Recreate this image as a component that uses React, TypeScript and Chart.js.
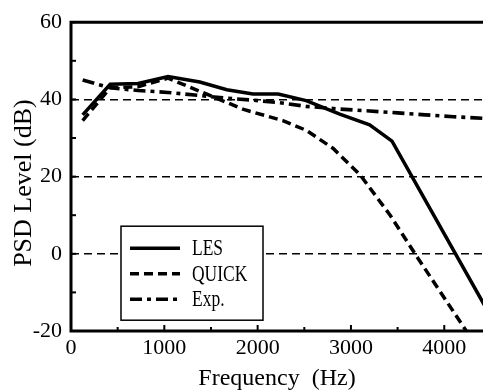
import React, { useEffect, useRef } from 'react';
import { Chart, registerables } from 'chart.js';

Chart.register(...registerables);

// ---- data ----
const seriesNames = ['LES', 'QUICK', 'Exp.'];
const lesFreq = [125, 420, 720, 1040, 1380, 1670, 1950, 2220, 2520, 2880, 3200, 3440, 4500];
const lesLevel = [36, 43.9, 44.1, 45.9, 44.5, 42.5, 41.4, 41.4, 39.7, 36.2, 33.4, 29.2, -16.3];
const quickFreq = [125, 420, 720, 1040, 1850, 2270, 2520, 2810, 3100, 3420, 3700, 4250];
const quickLevel = [34.5, 43, 43.3, 45.5, 37.4, 34.5, 32, 27.3, 20.4, 10, -0.5, -20.5];
const expFreq = [125, 420, 720, 1040, 1380, 1670, 1950, 2220, 2520, 2880, 3200, 3500, 3800, 4100, 4500];
const expLevel = [45, 43, 42.3, 41.8, 41, 40.3, 39.8, 39.2, 38.2, 37.5, 37, 36.5, 36, 35.5, 35];
const xLabelTicks = [0, 1000, 2000, 3000, 4000];
const yLabelTicks = [-20, 0, 20, 40, 60];
const yGridValues = [0, 20, 40];
const xTitle = 'Frequency  (Hz)';
const yTitle = 'PSD Level (dB)  ';

const X_MIN = 0;
const X_MAX = 4415;
const Y_MIN = -20;
const Y_MAX = 60;

const SERIF = "'Liberation Serif', 'Times New Roman', serif";

const framePlugin = {
  id: 'frameAndLegend',
  afterDatasetsDraw(chart: any) {
    const { ctx, chartArea: a, scales } = chart;
    const xs = scales.x;
    const ys = scales.y;
    ctx.save();
    ctx.strokeStyle = '#000';
    ctx.setLineDash([]);
    // inward ticks
    ctx.lineWidth = 2;
    for (let v = 0; v <= X_MAX; v += 500) {
      const px = xs.getPixelForValue(v);
      const len = v % 1000 === 0 ? 6 : 4;
      ctx.beginPath();
      ctx.moveTo(px, a.bottom);
      ctx.lineTo(px, a.bottom - len);
      ctx.stroke();
    }
    for (let v = Y_MIN; v <= Y_MAX; v += 10) {
      const py = ys.getPixelForValue(v);
      ctx.beginPath();
      ctx.moveTo(a.left, py);
      ctx.lineTo(a.left + 5, py);
      ctx.stroke();
    }
    // frame (top, left, bottom)
    ctx.lineWidth = 3;
    ctx.lineCap = 'square';
    ctx.beginPath();
    ctx.moveTo(a.right + 3, a.top);
    ctx.lineTo(a.left, a.top);
    ctx.lineTo(a.left, a.bottom);
    ctx.lineTo(a.right + 3, a.bottom);
    ctx.stroke();
    ctx.lineCap = 'butt';

    // legend box
    const bx = a.left + 50;
    const by = a.top + 204;
    const bw = 142;
    const bh = 94;
    ctx.fillStyle = '#fff';
    ctx.fillRect(bx, by, bw, bh);
    ctx.lineWidth = 1.5;
    ctx.strokeRect(bx, by, bw, bh);
    chart.data.datasets.forEach((ds: any, i: number) => {
      const ry = by + 22 + i * 25.5;
      ctx.save();
      ctx.strokeStyle = '#000';
      ctx.lineWidth = ds.borderWidth;
      ctx.setLineDash(ds.borderDash || []);
      ctx.beginPath();
      ctx.moveTo(bx + 9, ry);
      ctx.lineTo(bx + 59, ry);
      ctx.stroke();
      ctx.restore();
      ctx.save();
      ctx.fillStyle = '#000';
      ctx.font = `23px ${SERIF}`;
      ctx.textBaseline = 'middle';
      ctx.textAlign = 'left';
      ctx.translate(bx + 71, ry + 1);
      ctx.scale(0.76, 1);
      ctx.fillText(ds.label, 0, 0);
      ctx.restore();
    });
    ctx.restore();
  },
};

export default function App() {
  const canvasRef = useRef<HTMLCanvasElement | null>(null);

  useEffect(() => {
    const canvas = canvasRef.current;
    if (!canvas) return;
    const mk = (f: number[], v: number[]) => f.map((x, i) => ({ x, y: v[i] }));
    const chart = new Chart(canvas, {
      type: 'line',
      data: {
        datasets: [
          {
            label: seriesNames[0],
            data: mk(lesFreq, lesLevel),
            borderColor: '#000',
            borderWidth: 3.5,
            borderDash: [],
            pointRadius: 0,
            tension: 0,
            fill: false,
          },
          {
            label: seriesNames[1],
            data: mk(quickFreq, quickLevel),
            borderColor: '#000',
            borderWidth: 3.5,
            borderDash: [9, 5],
            pointRadius: 0,
            tension: 0,
            fill: false,
          },
          {
            label: seriesNames[2],
            data: mk(expFreq, expLevel),
            borderColor: '#000',
            borderWidth: 3.6,
            borderDash: [12, 5, 4, 5],
            pointRadius: 0,
            tension: 0,
            fill: false,
          },
        ],
      },
      options: {
        responsive: false,
        animation: false,
        devicePixelRatio: 1,
        layout: { padding: { top: 19, right: 0, left: 0, bottom: 0 } },
        plugins: {
          legend: { display: false },
          tooltip: { enabled: false },
        },
        scales: {
          x: {
            type: 'linear',
            min: X_MIN,
            max: X_MAX,
            afterBuildTicks: (scale: any) => {
              scale.ticks = xLabelTicks.map((value) => ({ value }));
            },
            afterFit: (scale: any) => {
              scale.height = 60;
            },
            grid: { display: false, drawTicks: false },
            border: { display: false },
            ticks: {
              autoSkip: false,
              maxRotation: 0,
              minRotation: 0,
              padding: 4,
              color: '#000',
              font: { family: SERIF, size: 22 },
              callback: (v: any) => String(v),
            },
            title: {
              display: true,
              text: xTitle,
              color: '#000',
              font: { family: SERIF, size: 24, lineHeight: 1 },
              padding: { top: 0, bottom: 0 },
            },
          },
          y: {
            type: 'linear',
            min: Y_MIN,
            max: Y_MAX,
            afterFit: (scale: any) => {
              scale.width = 71;
            },
            grid: {
              drawTicks: false,
              lineWidth: 1.4,
              color: (c: any) => (c.tick && yGridValues.includes(c.tick.value) ? '#000' : 'rgba(0,0,0,0)'),
            },
            border: { display: false, dash: [8, 5] },
            ticks: {
              stepSize: 10,
              autoSkip: false,
              padding: 9,
              color: '#000',
              font: { family: SERIF, size: 22 },
              callback: (v: any) => (yLabelTicks.includes(Number(v)) ? String(v) : ''),
            },
            title: {
              display: true,
              text: yTitle,
              color: '#000',
              font: { family: SERIF, size: 26, lineHeight: 1 },
              padding: { top: 11, bottom: 0 },
            },
          },
        },
      },
      plugins: [framePlugin],
    } as any);
    return () => chart.destroy();
  }, []);

  return (
    <div style={{ position: 'absolute', left: 0, top: 0, width: 483, height: 391, background: '#fff' }}>
      <canvas ref={canvasRef} width={483} height={391} />
    </div>
  );
}
